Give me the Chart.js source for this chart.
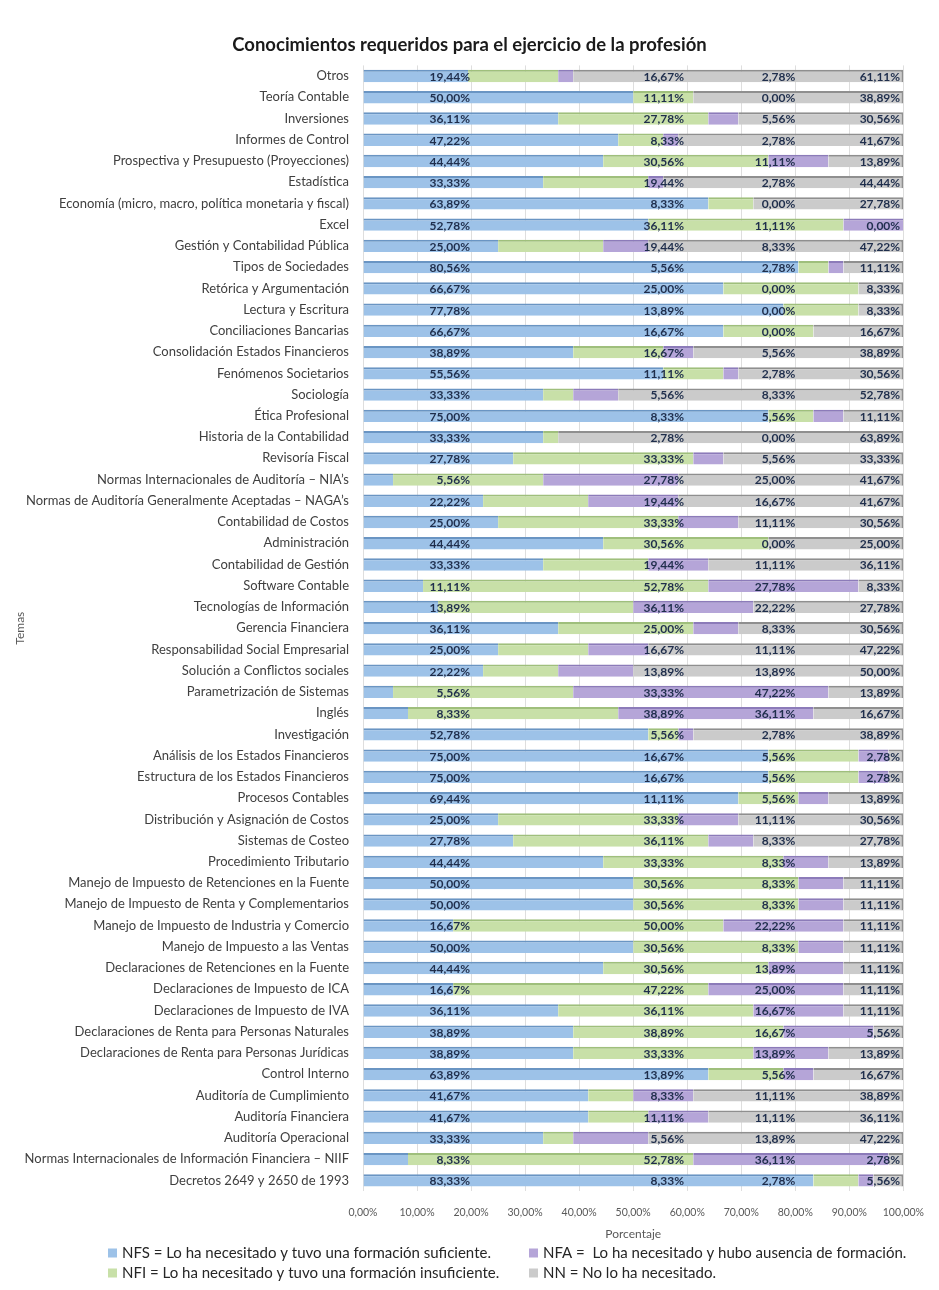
<!DOCTYPE html>
<html><head><meta charset="utf-8">
<script src="https://cdn.jsdelivr.net/npm/chart.js@4.4.1/dist/chart.umd.min.js"></script>
<style>html,body{margin:0;padding:0;background:#fff;} canvas{display:block;}</style>
</head><body>
<canvas id="c" width="939" height="1290"></canvas>
<script>
const chartTitle = 'Conocimientos requeridos para el ejercicio de la profesión';
const categories = [
 'Otros','Teoría Contable','Inversiones','Informes de Control','Prospectiva y Presupuesto (Proyecciones)','Estadística',
 'Economía (micro, macro, política monetaria y fiscal)','Excel','Gestión y Contabilidad Pública','Tipos de Sociedades',
 'Retórica y Argumentación','Lectura y Escritura','Conciliaciones Bancarias','Consolidación Estados Financieros',
 'Fenómenos Societarios','Sociología','Ética Profesional','Historia de la Contabilidad','Revisoría Fiscal',
 'Normas Internacionales de Auditoría – NIA’s','Normas de Auditoría Generalmente Aceptadas – NAGA’s','Contabilidad de Costos',
 'Administración','Contabilidad de Gestión','Software Contable','Tecnologías de Información','Gerencia Financiera',
 'Responsabilidad Social Empresarial','Solución a Conflictos sociales','Parametrización de Sistemas','Inglés','Investigación',
 'Análisis de los Estados Financieros','Estructura de los Estados Financieros','Procesos Contables',
 'Distribución y Asignación de Costos','Sistemas de Costeo','Procedimiento Tributario',
 'Manejo de Impuesto de Retenciones en la Fuente','Manejo de Impuesto de Renta y Complementarios',
 'Manejo de Impuesto de Industria y Comercio','Manejo de Impuesto a las Ventas','Declaraciones de Retenciones en la Fuente',
 'Declaraciones de Impuesto de ICA','Declaraciones de Impuesto de IVA','Declaraciones de Renta para Personas Naturales',
 'Declaraciones de Renta para Personas Jurídicas','Control Interno','Auditoría de Cumplimiento','Auditoría Financiera',
 'Auditoría Operacional','Normas Internacionales de Información Financiera – NIIF','Decretos 2649 y 2650 de 1993'
];
const nfs = [19.44,50.00,36.11,47.22,44.44,33.33,63.89,52.78,25.00,80.56,66.67,77.78,66.67,38.89,55.56,33.33,75.00,33.33,27.78,5.56,22.22,25.00,44.44,33.33,11.11,13.89,36.11,25.00,22.22,5.56,8.33,52.78,75.00,75.00,69.44,25.00,27.78,44.44,50.00,50.00,16.67,50.00,44.44,16.67,36.11,38.89,38.89,63.89,41.67,41.67,33.33,8.33,83.33];
const nfi = [16.67,11.11,27.78,8.33,30.56,19.44,8.33,36.11,19.44,5.56,25.00,13.89,16.67,16.67,11.11,5.56,8.33,2.78,33.33,27.78,19.44,33.33,30.56,19.44,52.78,36.11,25.00,16.67,13.89,33.33,38.89,5.56,16.67,16.67,11.11,33.33,36.11,33.33,30.56,30.56,50.00,30.56,30.56,47.22,36.11,38.89,33.33,13.89,8.33,11.11,5.56,52.78,8.33];
const nfa = [2.78,0.00,5.56,2.78,11.11,2.78,0.00,11.11,8.33,2.78,0.00,0.00,0.00,5.56,2.78,8.33,5.56,0.00,5.56,25.00,16.67,11.11,0.00,11.11,27.78,22.22,8.33,11.11,13.89,47.22,36.11,2.78,5.56,5.56,5.56,11.11,8.33,8.33,8.33,8.33,22.22,8.33,13.89,25.00,16.67,16.67,13.89,5.56,11.11,11.11,13.89,36.11,2.78];
const nn  = [61.11,38.89,30.56,41.67,13.89,44.44,27.78,0.00,47.22,11.11,8.33,8.33,16.67,38.89,30.56,52.78,11.11,63.89,33.33,41.67,41.67,30.56,25.00,36.11,8.33,27.78,30.56,47.22,50.00,13.89,16.67,38.89,2.78,2.78,13.89,30.56,27.78,13.89,11.11,11.11,11.11,11.11,11.11,11.11,11.11,5.56,13.89,16.67,38.89,36.11,47.22,2.78,5.56];
const seriesNames = [
 'NFS = Lo ha necesitado y tuvo una formación suficiente.',
 'NFI = Lo ha necesitado y tuvo una formación insuficiente.',
 'NFA =  Lo ha necesitado y hubo ausencia de formación.',
 'NN = No lo ha necesitado.'
];
const xTickLabels = ['0,00%','10,00%','20,00%','30,00%','40,00%','50,00%','60,00%','70,00%','80,00%','90,00%','100,00%'];

const seriesValues = [nfs, nfi, nfa, nn];
const fills = ['#9dc2e8', '#c8e0a8', '#b5a5d8', '#cbcbcb'];
const edges = ['#6a95c3', '#9fbf7c', '#8c7bb9', '#8f8f8f'];
const labelCols = [19.8, 59.4, 80.0, 99.4]; // x-scale positions of label columns (right aligned)

const fmt = v => v.toFixed(2).replace('.', ',') + '%';

const titlePlugin = {
  id: 'customTitle',
  afterDraw(chart) {
    const ctx = chart.ctx;
    ctx.save();
    ctx.font = 'bold 18.5px Lato';
    ctx.fillStyle = '#1a1a1a';
    ctx.textAlign = 'center';
    ctx.textBaseline = 'middle';
    ctx.fillText(chartTitle, chart.width / 2, 45);
    ctx.restore();
  }
};

const labelPlugin = {
  id: 'colLabels',
  afterDatasetsDraw(chart) {
    const ctx = chart.ctx;
    const xs = chart.scales.x, ys = chart.scales.y;
    ctx.save();
    ctx.font = 'bold 12px Lato';
    ctx.fillStyle = '#1f2e4c';
    ctx.textAlign = 'right';
    ctx.textBaseline = 'middle';
    categories.forEach((c, i) => {
      const y = ys.getPixelForValue(i) + 1;
      seriesValues.forEach((vals, s) => {
        ctx.fillText(fmt(vals[i]), xs.getPixelForValue(labelCols[s]), y);
      });
    });
    ctx.restore();
  }
};

const legendPlugin = {
  id: 'gridLegend',
  afterDraw(chart) {
    const ctx = chart.ctx;
    const slots = [[108, 1253], [108, 1273], [529, 1253], [529, 1273]];
    ctx.save();
    ctx.font = '15px Lato';
    ctx.textAlign = 'left';
    ctx.textBaseline = 'middle';
    chart.data.datasets.forEach((ds, i) => {
      const [x, y] = slots[i];
      ctx.fillStyle = ds.backgroundColor;
      ctx.fillRect(x, y - 4.5, 9, 9);
      ctx.fillStyle = '#262626';
      ctx.fillText(ds.label, x + 14, y);
    });
    ctx.restore();
  }
};

new Chart(document.getElementById('c'), {
  type: 'bar',
  data: {
    labels: categories,
    datasets: seriesValues.map((vals, i) => ({
      label: seriesNames[i],
      data: vals,
      backgroundColor: fills[i],
      borderColor: edges[i],
      borderWidth: { top: 2, right: i === 3 ? 2 : 0, bottom: 0, left: 0 },
      borderSkipped: false,
      barPercentage: 0.58,
      categoryPercentage: 1
    }))
  },
  options: {
    indexAxis: 'y',
    responsive: false,
    animation: false,
    layout: { padding: { top: 65.4, right: 22, bottom: 48.8, left: 0 } },
    plugins: { legend: { display: false }, title: { display: false }, tooltip: { enabled: false } },
    scales: {
      x: {
        stacked: true, min: 0, max: 100, position: 'bottom',
        ticks: { stepSize: 10, padding: 15, color: '#595959', font: { family: 'Lato', size: 10.5 }, maxRotation: 0, autoSkip: false,
                 callback: (v, i) => xTickLabels[i] },
        grid: { color: '#dedede', drawTicks: false },
        border: { display: false },
        title: { display: true, text: 'Porcentaje', color: '#595959', font: { family: 'Lato', size: 12 }, padding: { top: 10, bottom: 0 } },
        afterFit: s => { s.height = 50.2; }
      },
      y: {
        stacked: true,
        ticks: { padding: 14, color: '#404040', font: { family: 'Lato', size: 13 }, autoSkip: false },
        grid: { display: false, drawTicks: false },
        border: { display: false },
        title: { display: true, text: 'Temas', color: '#595959', font: { family: 'Lato', size: 12 }, padding: { top: 13, bottom: 0 } },
        afterFit: s => { s.width = 363; }
      }
    }
  },
  plugins: [titlePlugin, labelPlugin, legendPlugin]
});
</script></body></html>
